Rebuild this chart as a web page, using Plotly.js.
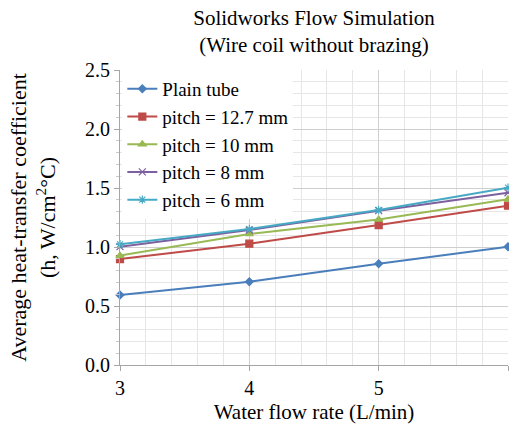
<!DOCTYPE html>
<html><head><meta charset="utf-8">
<script src="https://cdn.plot.ly/plotly-3.0.1.min.js"></script>
<style>html,body{margin:0;padding:0;background:#fff}</style>
</head><body><div id="chart" style="width:509px;height:428px"></div>
<script>
var flowRate = [3, 4, 5, 6];
var plainTube = [0.593, 0.706, 0.859, 1.003];
var pitch127 = [0.898, 1.028, 1.186, 1.350];
var pitch10 = [0.927, 1.110, 1.234, 1.404];
var pitch8 = [1.003, 1.144, 1.308, 1.460];
var pitch6 = [1.023, 1.152, 1.314, 1.503];
var seriesNames = ["Plain tube", "pitch = 12.7 mm", "pitch = 10 mm", "pitch = 8 mm", "pitch = 6 mm"];
var xTicks = [3, 4, 5, 6];
var yTicks = [0.0, 0.5, 1.0, 1.5, 2.0, 2.5];
var yTickText = ["0.0", "0.5", "1.0", "1.5", "2.0", "2.5"];

var colors = ["#4a7ebb", "#be4b48", "#98b954", "#7d60a0", "#46aac5"];
var symbols = ["diamond", "square", "triangle-up", "x-thin-open", "asterisk-open"];
var sizes = [6, 7, 7, 7, 7];
var data = [plainTube, pitch127, pitch10, pitch8, pitch6];
var traces = data.map(function (ys, i) {
  return {
    x: flowRate, y: ys, name: seriesNames[i], type: "scatter", mode: "lines+markers",
    line: {color: colors[i], width: 2},
    marker: {symbol: symbols[i], size: sizes[i], color: colors[i], line: {color: colors[i], width: 1.2}},
    cliponaxis: false
  };
});
var FAM = "Liberation Serif";
var layout = {
  width: 509, height: 428,
  margin: {l: 120, r: 1, t: 70, b: 63},
  paper_bgcolor: "#fff", plot_bgcolor: "#fff",
  font: {family: FAM, size: 18, color: "#000"},
  title: {text: "Solidworks Flow Simulation<br>(Wire coil without brazing)", x: 0.5, xref: "paper", yref: "container", y: 0.942, yanchor: "middle", font: {family: FAM, size: 21, color: "#000"}},
  showlegend: true,
  legend: {x: 0.006, y: 1.0, xanchor: "left", yanchor: "top", bgcolor: "#fff", borderwidth: 0,
    font: {family: FAM, size: 19, color: "#000"}, itemwidth: 30, tracegroupgap: 0},
  xaxis: {
    range: [3, 6], tickvals: xTicks, ticktext: xTicks.map(String),
    showgrid: true, gridcolor: "#cfcfcf", gridwidth: 1,
    minor: {dtick: 0.2, showgrid: true, gridcolor: "#e6e6e6", ticks: ""},
    showline: true, linecolor: "#a6a6a6", linewidth: 1,
    ticks: "outside", ticklen: 5, tickcolor: "#a6a6a6",
    zeroline: false, tickfont: {family: FAM, size: 20, color: "#000"},
    title: {text: "Water flow rate (L/min)", font: {family: FAM, size: 21, color: "#000"}, standoff: 6}
  },
  yaxis: {
    range: [0, 2.5], tickvals: yTicks, ticktext: yTickText,
    showgrid: true, gridcolor: "#cfcfcf", gridwidth: 1,
    minor: {dtick: 0.1, showgrid: true, gridcolor: "#e6e6e6", ticks: "outside", ticklen: 3, tickcolor: "#c8c8c8"},
    showline: true, linecolor: "#a6a6a6", linewidth: 1,
    ticks: "outside", ticklen: 5, tickcolor: "#a6a6a6",
    zeroline: false, tickfont: {family: FAM, size: 20, color: "#000"},
    title: {text: "Average heat-transfer coefficient<br>(h, W/cm<sup>2</sup>°C)", font: {family: FAM, size: 22, color: "#000"}, standoff: 23}
  }
};
Plotly.newPlot("chart", traces, layout, {displayModeBar: false, staticPlot: true});
</script></body></html>
